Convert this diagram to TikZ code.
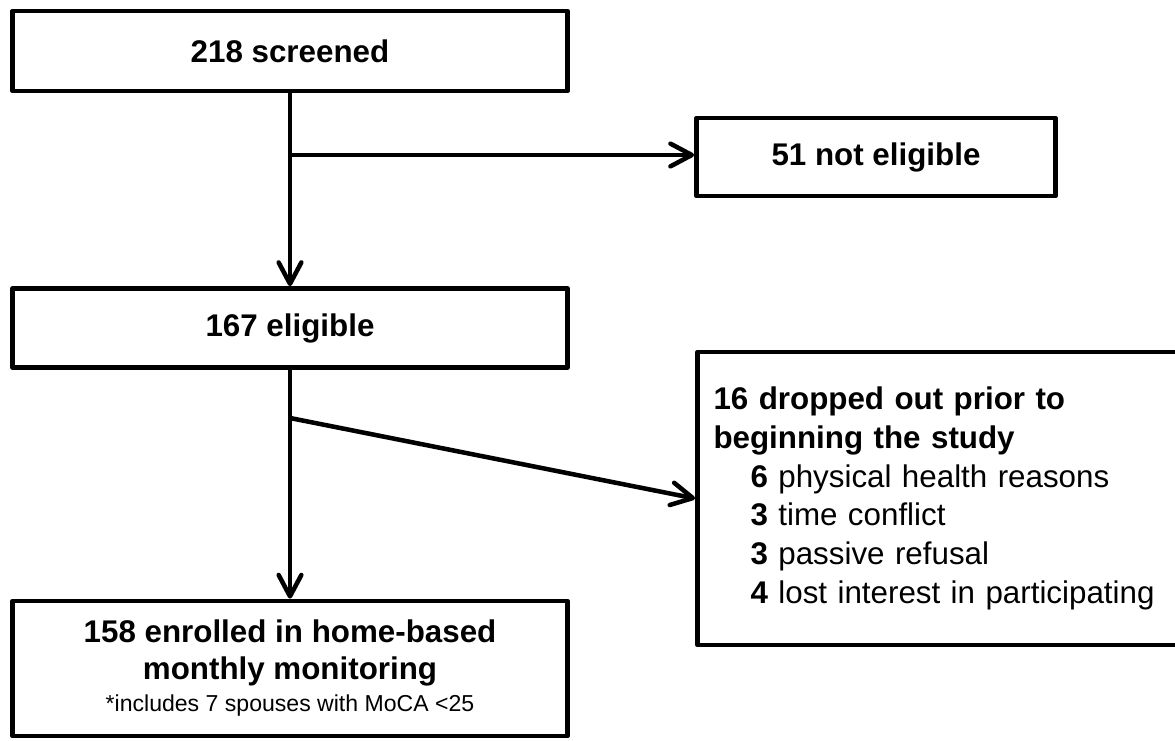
\documentclass[tikz,border=0pt]{standalone}
\usepackage{fontspec}
\setmainfont{Liberation Sans}
\usetikzlibrary{arrows.meta}

\begin{document}
\begin{tikzpicture}[x=0.75pt,y=-0.75pt,
    box/.style={draw, line width=3.6pt, line join=round, inner sep=0pt,
      align=center, font=\bfseries\fontsize{23.5}{27.75}\selectfont},
    arr/.style={line width=3.4pt,
      -{Straight Barb[length=16pt,width=17pt,line cap=round,line join=round]}}]

  \useasboundingbox [fill=white] (0,0) rectangle (1175,740);

  % the main column of boxes
  \node [box, minimum width=416.25pt, minimum height=60pt] (scrn) at (290,51) {218 screened};
  \node [box, minimum width=416.25pt, minimum height=59.25pt] (elig) at (290,328) {167 eligible};
  \node [box, minimum width=416.25pt, minimum height=101.25pt] (enrol) at (290,668.5)
    {158 enrolled in home-based\\ monthly monitoring\\[-3.75pt]
     {\mdseries\fontsize{17.3}{20}\selectfont *includes 7 spouses with MoCA <25}};

  % the boxes on the right
  \node [box, minimum width=269.25pt, minimum height=58.5pt] (inelig) at (876,157) {51 not eligible};
  % right edge of this one runs off the page
  \node [box, align=left, text width=345pt, inner xsep=12pt, minimum height=219.75pt,
    font=\fontsize{23.5}{29}\selectfont] (drop) at (943.5,498.5)
    {\textbf{16 dropped out prior to}\\
     \textbf{beginning the study}\\
     \hspace*{27.75pt}\textbf{6} physical health reasons\\
     \hspace*{27.75pt}\textbf{3} time conflict\\
     \hspace*{27.75pt}\textbf{3} passive refusal\\
     \hspace*{27.75pt}\textbf{4} lost interest in participating};

  % branch points on the trunk
  \coordinate (b1) at (290,155);
  \coordinate (b2) at (290,418);

  % the arrows
  \draw [arr] (scrn) -- (elig);
  \draw [arr] (b1) -- (b1 -| inelig.west);
  \draw [arr] (elig) -- (enrol);
  \draw [arr] (b2) -- (drop.west);
\end{tikzpicture}
\end{document}
